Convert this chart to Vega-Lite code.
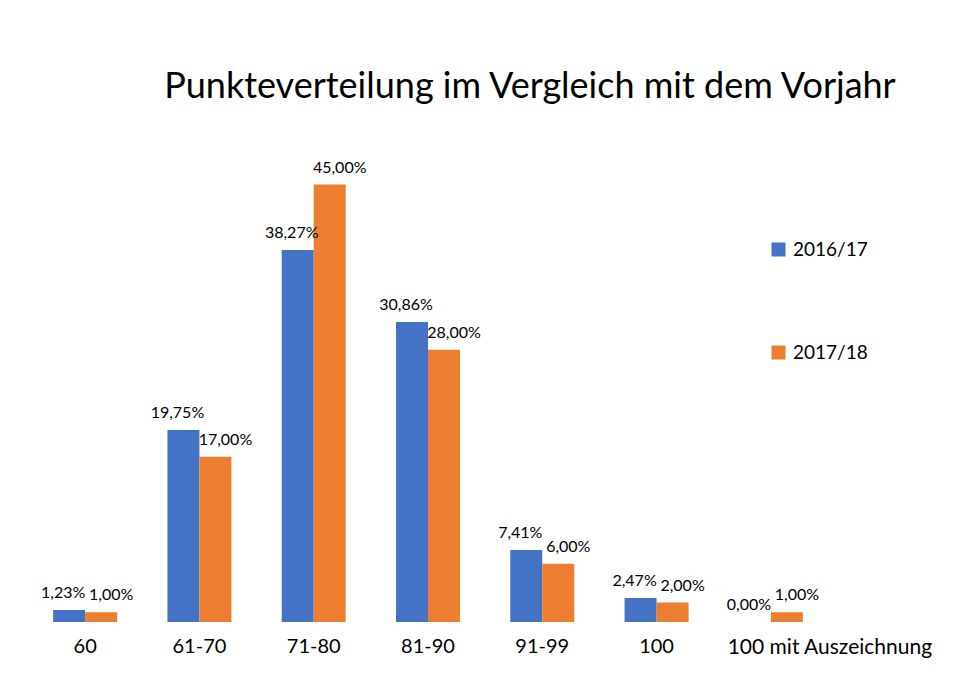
{
  "$schema": "https://vega.github.io/schema/vega-lite/v6.json",
  "width": 800,
  "height": 486,
  "autosize": "none",
  "padding": {"left": 28, "top": 136, "right": 132, "bottom": 64},
  "background": "white",
  "config": {
    "view": {"stroke": null},
    "font": "Lato",
    "locale": {"number": {"decimal": ",", "thousands": ".", "grouping": [3], "currency": ["", " €"]}}
  },
  "title": {
    "text": "Punkteverteilung im Vergleich mit dem Vorjahr",
    "anchor": "middle",
    "dx": 102,
    "offset": 30,
    "fontSize": 36,
    "fontWeight": "normal",
    "color": "#000000",
    "font": "Lato"
  },
  "data": {
    "values": [
      {"kategorie": "60", "jahr": "2016/17", "anteil": 0.0123},
      {"kategorie": "60", "jahr": "2017/18", "anteil": 0.01},
      {"kategorie": "61-70", "jahr": "2016/17", "anteil": 0.1975},
      {"kategorie": "61-70", "jahr": "2017/18", "anteil": 0.17},
      {"kategorie": "71-80", "jahr": "2016/17", "anteil": 0.3827},
      {"kategorie": "71-80", "jahr": "2017/18", "anteil": 0.45},
      {"kategorie": "81-90", "jahr": "2016/17", "anteil": 0.3086},
      {"kategorie": "81-90", "jahr": "2017/18", "anteil": 0.28},
      {"kategorie": "91-99", "jahr": "2016/17", "anteil": 0.0741},
      {"kategorie": "91-99", "jahr": "2017/18", "anteil": 0.06},
      {"kategorie": "100", "jahr": "2016/17", "anteil": 0.0247},
      {"kategorie": "100", "jahr": "2017/18", "anteil": 0.02},
      {"kategorie": "100 mit Auszeichnung", "jahr": "2016/17", "anteil": 0.0},
      {"kategorie": "100 mit Auszeichnung", "jahr": "2017/18", "anteil": 0.01}
    ]
  },
  "encoding": {
    "x": {
      "field": "kategorie",
      "type": "nominal",
      "sort": null,
      "scale": {"paddingInner": 0.44, "paddingOuter": 0.22},
      "axis": {
        "title": null,
        "labelAngle": 0,
        "labelFontSize": {"condition": {"test": "datum.value === '100 mit Auszeichnung'", "value": 21}, "value": 20},
        "labelOffset": {"condition": {"test": "datum.value === '100 mit Auszeichnung'", "value": 59}, "value": 0},
        "labelColor": "#000000",
        "labelPadding": 14,
        "labelLimit": 0,
        "labelOverlap": false,
        "domain": false,
        "ticks": false,
        "labelFont": "Lato"
      }
    },
    "y": {
      "field": "anteil",
      "type": "quantitative",
      "scale": {"domain": [0, 0.5]},
      "axis": null
    },
    "xOffset": {"field": "jahr", "type": "nominal", "scale": {"paddingInner": 0, "paddingOuter": 0}}
  },
  "layer": [
    {
      "mark": {"type": "bar"},
      "encoding": {
        "color": {
          "field": "jahr",
          "type": "nominal",
          "scale": {"domain": ["2016/17", "2017/18"], "range": ["#4472C4", "#ED7D31"]},
          "legend": {
            "title": null,
            "orient": "none",
            "legendX": 741,
            "legendY": 104,
            "padding": 0,
            "symbolType": "square",
            "symbolSize": 196,
            "symbolStrokeWidth": 0,
            "labelFontSize": 19,
            "labelColor": "#000000",
            "labelFont": "Lato",
            "labelOffset": 5,
            "rowPadding": 83
          }
        }
      }
    },
    {
      "transform": [{"filter": "datum.jahr === '2016/17'"}],
      "mark": {"type": "text", "baseline": "alphabetic", "dy": -12, "dx": -6, "fontSize": 16, "color": "#000000", "font": "Lato"},
      "encoding": {"text": {"field": "anteil", "type": "quantitative", "format": ".2%"}}
    },
    {
      "transform": [{"filter": "datum.jahr === '2017/18'"}],
      "mark": {"type": "text", "baseline": "alphabetic", "dy": -12, "dx": 10, "fontSize": 16, "color": "#000000", "font": "Lato"},
      "encoding": {"text": {"field": "anteil", "type": "quantitative", "format": ".2%"}}
    }
  ]
}
